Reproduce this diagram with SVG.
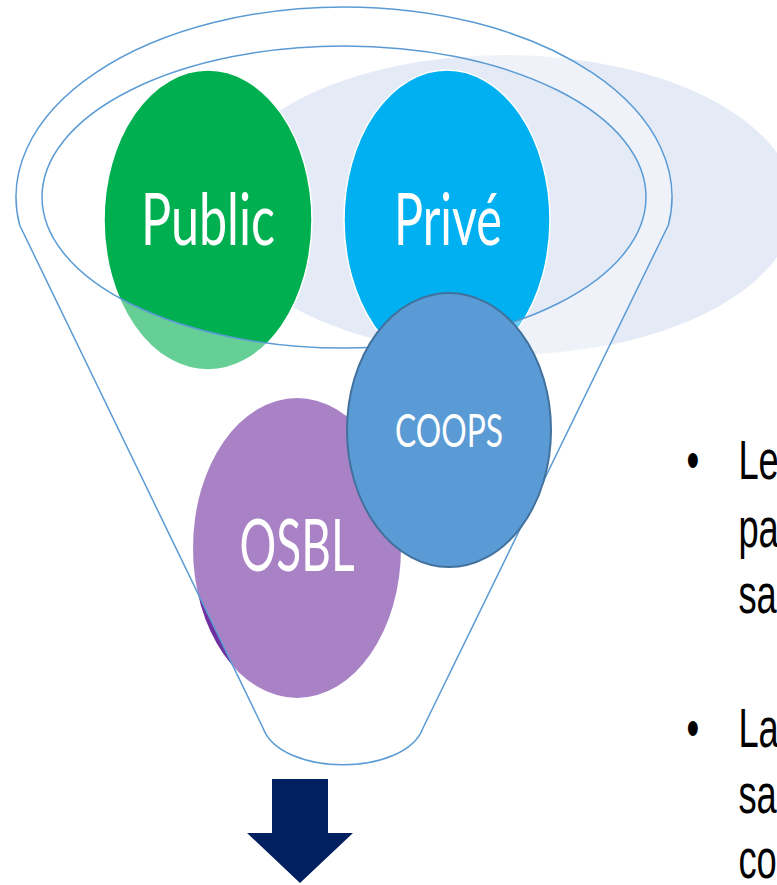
<svg xmlns="http://www.w3.org/2000/svg" width="777" height="885" viewBox="0 0 777 885">
<style>
.lbl{font-family:Lato,"Open Sans","Liberation Sans",sans-serif;fill:#ffffff;text-anchor:middle}
.body{font-family:"Liberation Sans",Arial,sans-serif;font-size:55px;fill:#000000}
.funnel{fill:#ffffff;fill-opacity:0.4;fill-rule:evenodd;stroke:#5b9bd5;stroke-width:1.5}
</style>
<rect width="777" height="885" fill="#ffffff"/>
<g id="backdrop">
<ellipse cx="505" cy="205" rx="290" ry="150" fill="#e4ebf6"/>
</g>
<g id="public">
<ellipse cx="208" cy="220" rx="104" ry="150" fill="#00b050" stroke="#ffffff" stroke-width="1.5"/>
<text class="lbl" x="208" y="245" font-size="72" textLength="134" lengthAdjust="spacingAndGlyphs">Public</text>
</g>
<g id="prive">
<ellipse cx="447" cy="220" rx="103" ry="150" fill="#00b0f0" stroke="#ffffff" stroke-width="1.5"/>
<text class="lbl" x="448" y="245" font-size="72" textLength="108" lengthAdjust="spacingAndGlyphs">Privé</text>
</g>
<g id="osbl">
<ellipse cx="297" cy="548" rx="104" ry="150" fill="#7030a0"/>
</g>
<g id="funnel">
<path class="funnel" d="M 19.6 225 A 328 190 0 1 1 668.4 225 L 423 728 C 405 777 281 777 263 728 Z M 42 197 A 302 151 0 1 0 646 197 A 302 151 0 1 0 42 197 Z"/>
</g>
<g id="osbl-label">
<text class="lbl" x="297" y="571" font-size="72" textLength="115" lengthAdjust="spacingAndGlyphs">OSBL</text>
</g>
<g id="coops">
<ellipse cx="449" cy="430" rx="102" ry="137" fill="#5b9bd5" stroke="#41719c" stroke-width="2"/>
<text class="lbl" x="449" y="447" font-size="47" textLength="108" lengthAdjust="spacingAndGlyphs">COOPS</text>
</g>
<g id="connectors">
<polygon points="272,779 328,779 328,833 353,833 300,883 247,833 272,833" fill="#002060"/>
</g>
<g id="bullets">
<text class="body" transform="translate(686.6,479) scale(0.66,1)">•</text>
<text class="body" transform="translate(738.4,479) scale(0.66,1)">Le</text>
<text class="body" transform="translate(738.4,547) scale(0.66,1)">pa</text>
<text class="body" transform="translate(738.4,613) scale(0.66,1)">sa</text>
<text class="body" transform="translate(686.6,747) scale(0.66,1)">•</text>
<text class="body" transform="translate(738.4,747) scale(0.66,1)">La</text>
<text class="body" transform="translate(738.4,813) scale(0.66,1)">sa</text>
<text class="body" transform="translate(738.4,878) scale(0.66,1)">co</text>
</g>
</svg>
